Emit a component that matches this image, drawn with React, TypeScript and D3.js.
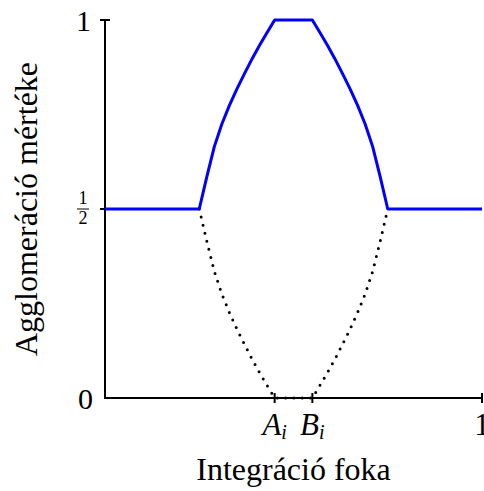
import React from "react";
import * as d3 from "d3";

// Blue curve: agglomeration degree vs. integration degree
const blueX = [0, 0.25, 0.27, 0.29, 0.31, 0.33, 0.35, 0.37, 0.39, 0.41, 0.43, 0.45, 0.55, 0.57, 0.59, 0.61, 0.63, 0.65, 0.67, 0.69, 0.71, 0.73, 0.75, 1];
const blueY = [0.5, 0.5, 0.585, 0.665, 0.725, 0.774, 0.818, 0.858, 0.897, 0.933, 0.967, 1, 1, 0.967, 0.933, 0.897, 0.858, 0.818, 0.774, 0.725, 0.665, 0.585, 0.5, 0.5];
// Dotted curve (mirror below 1/2)
const dotX = [0.25, 0.27, 0.29, 0.31, 0.33, 0.35, 0.37, 0.39, 0.41, 0.43, 0.45, 0.55, 0.57, 0.59, 0.61, 0.63, 0.65, 0.67, 0.69, 0.71, 0.73, 0.75];
const dotY = [0.5, 0.415, 0.335, 0.275, 0.226, 0.182, 0.142, 0.103, 0.067, 0.033, 0, 0, 0.033, 0.067, 0.103, 0.142, 0.182, 0.226, 0.275, 0.335, 0.415, 0.5];

const xTickVals = [0.45, 0.55, 1];
const xTickNames = ["A", "B", "1"];
const xTickSubs = ["i", "i", ""];
const yTickVals = [0, 0.5, 1];

const xTitle = "Integráció foka";
const yTitle = "Agglomeráció mértéke";

export default function App() {
  const W = 484, H = 491;
  const x = d3.scaleLinear().domain([0, 1]).range([105, 482]);
  const y = d3.scaleLinear().domain([0, 1]).range([398, 20]);
  const line = d3.line<[number, number]>().x(d => x(d[0])).y(d => y(d[1]));
  const bluePts = blueX.map((v, i) => [v, blueY[i]] as [number, number]);
  const dotPts = dotX.map((v, i) => [v, dotY[i]] as [number, number]);
  const font = "'Liberation Serif', 'Times New Roman', serif";
  const ts = { fontFamily: font };

  return (
    <svg width={W} height={H} style={{ position: "absolute", left: 0, top: 0, background: "#fff" }}>
      {/* axes */}
      <path d={`M${x(0)},${y(1)}V${y(0)}H${x(1)}`} fill="none" stroke="#000" strokeWidth={2} />
      {/* y ticks */}
      {yTickVals.map((v, i) => (
        v > 0 ? <line key={"yt" + i} x1={x(0) - 5} x2={x(0) + 5} y1={y(v)} y2={y(v)} stroke="#000" strokeWidth={2} /> : null
      ))}
      {/* x ticks */}
      {xTickVals.map((v, i) => (
        <line key={"xt" + i} x1={x(v)} x2={x(v)} y1={y(0) - 5} y2={y(0) + 5} stroke="#000" strokeWidth={2} />
      ))}
      {/* dotted */}
      <path d={line(dotPts) || ""} fill="none" stroke="#000" strokeWidth={3} strokeDasharray="0 8.3" strokeLinecap="round" />
      {/* blue curve */}
      <path d={line(bluePts) || ""} fill="none" stroke="#0000ff" strokeWidth={3} strokeLinejoin="round" />
      {/* y tick labels */}
      <text x={91} y={y(1)} dy="0.35em" textAnchor="end" fontSize={30} style={ts}>1</text>
      <text x={93} y={y(0)} dy="0.35em" textAnchor="end" fontSize={30} style={ts}>0</text>
      <g transform={`translate(83,${y(0.5)})`}>
        <text x={0} y={-5} textAnchor="middle" fontSize={18} style={ts}>1</text>
        <line x1={-6} x2={6} y1={0} y2={0} stroke="#000" strokeWidth={1} />
        <text x={0} y={15} textAnchor="middle" fontSize={18} style={ts}>2</text>
      </g>
      {/* x tick labels */}
      {xTickVals.map((v, i) => (
        <text key={"xl" + i} x={x(v)} y={435} textAnchor="middle" fontSize={31} fontStyle={xTickSubs[i] ? "italic" : "normal"} style={ts}>
          {xTickNames[i]}
          {xTickSubs[i] ? <tspan fontSize={20} dy={4}>{xTickSubs[i]}</tspan> : null}
        </text>
      ))}
      {/* titles */}
      <text x={(x(0) + x(1)) / 2} y={480} textAnchor="middle" fontSize={32} style={ts}>{xTitle}</text>
      <text transform={`translate(37,${y(0.5)}) rotate(-90)`} textAnchor="middle" fontSize={32} style={ts}>{yTitle}</text>
    </svg>
  );
}
